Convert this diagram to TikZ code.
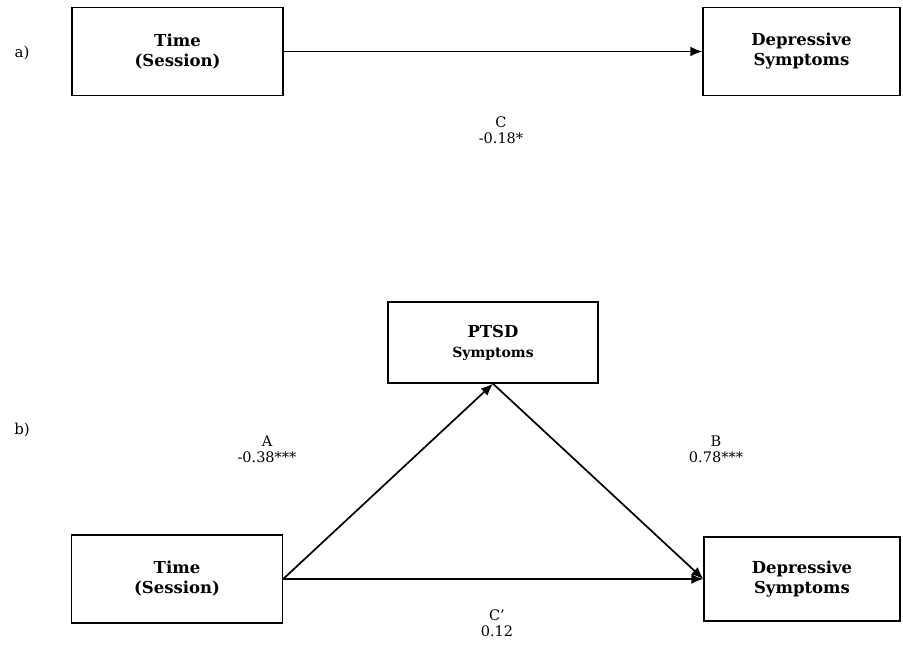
\documentclass[tikz,border=0pt]{standalone}
\usepackage{fontspec}
\setmainfont{DejaVu Serif}
\usetikzlibrary{arrows.meta}
\begin{document}
\begin{tikzpicture}[x=1pt,y=-1pt,
  boxnode/.style={draw,line width=1.4pt,minimum width=211pt,minimum height=88pt,inner sep=0pt,align=center,font=\fontsize{16.5}{20}\selectfont\bfseries},
  conn/.style={line width=1.7pt,-{Latex[length=12pt,width=10pt]}},
  lab/.style={align=center,font=\fontsize{14.5}{16}\selectfont},
  panel/.style={font=\fontsize{15}{16}\selectfont}]
\useasboundingbox (0,0) rectangle (903,661);
% panel a
\node[boxnode] (ta) at (177.5,51.5) {Time\\(Session)};
\node[boxnode,minimum width=197pt] (da) at (801.5,51.5) {Depressive\\Symptoms};
\draw[conn] (ta.east) -- (da.west);
\node[lab] (lc) at (501,130) {C\\-0.18*};
\node[panel] (pa) at (22,53) {a)};
% panel b
\node[boxnode,minimum width=210pt,minimum height=81pt] (pt) at (493,342.5) {PTSD\\{\fontsize{14}{18}\selectfont Symptoms}};
\node[boxnode] (tb) at (177,579) {Time\\(Session)};
\node[boxnode,minimum width=196pt,minimum height=84pt] (db) at (802,579) {Depressive\\Symptoms};
\draw[conn] (tb.east) -- (db.west);
\draw[conn] (tb.east) -- (pt.south);
\draw[conn] (pt.south) -- (db.west);
\node[lab] (la) at (267,449) {A\\-0.38***};
\node[lab] (lb) at (716,449) {B\\0.78***};
\node[lab] (lcp) at (497,623) {C'\\0.12};
\node[panel] (pb) at (22,430) {b)};
\end{tikzpicture}
\end{document}
